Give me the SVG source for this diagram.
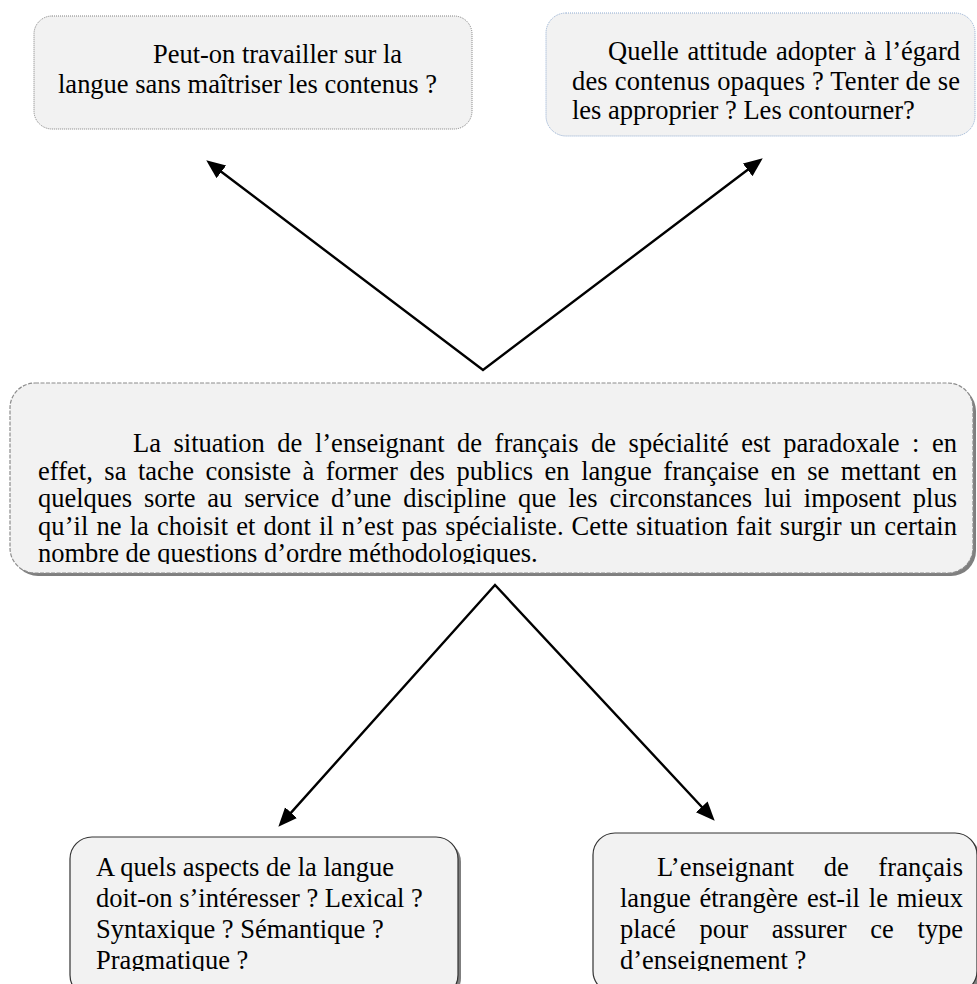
<svg xmlns="http://www.w3.org/2000/svg" width="977" height="984" viewBox="0 0 977 984">
  <style>
    .box { fill: #f2f2f2; }
    .txt { font-family: "Liberation Serif", "Times New Roman", serif; font-size: 26.5px; fill: #000; }
    .shadow { fill: #7f7f7f; }
    .conn { fill: none; stroke: #000; stroke-width: 2.4; stroke-linejoin: miter; }
  </style>
  <defs>
    <marker id="arrow" markerUnits="userSpaceOnUse" markerWidth="22" markerHeight="18" refX="8" refY="8" orient="auto-start-reverse">
      <path d="M0,0 L19,8 L0,16 z" fill="#000"/>
    </marker>
    <clipPath id="clipMain"><rect x="10" y="383" width="965" height="181"/></clipPath>
    <clipPath id="clipBL"><rect x="70" y="837" width="390" height="134"/></clipPath>
    <clipPath id="clipBR"><rect x="593" y="833" width="384" height="138"/></clipPath>
  </defs>

  <rect width="977" height="984" fill="#ffffff"/>

  <!-- Connectors -->
  <g id="connectors">
    <polyline class="conn" points="215,167 483,370 754,165" marker-start="url(#arrow)" marker-end="url(#arrow)"/>
    <polyline class="conn" points="285.7,818.6 495,585 707.2,812.7" marker-start="url(#arrow)" marker-end="url(#arrow)"/>
  </g>

  <!-- Question: working on language without mastering content -->
  <g id="node-top-left">
    <rect class="box" x="34" y="16" width="438" height="113" rx="18" ry="18" stroke="#808080" stroke-width="1" stroke-dasharray="1,1"/>
    <text class="txt" x="153" y="63" textLength="249" lengthAdjust="spacing">Peut-on travailler sur la</text>
    <text class="txt" x="58" y="93" textLength="379" lengthAdjust="spacing">langue sans maîtriser les contenus ?</text>
  </g>

  <!-- Question: attitude towards opaque content -->
  <g id="node-top-right">
    <rect class="box" x="546" y="13" width="429" height="123" rx="20" ry="20" stroke="#8eaad0" stroke-width="1" stroke-dasharray="1,1"/>
    <text class="txt" x="608" y="60" textLength="352" lengthAdjust="spacing" word-spacing="2">Quelle attitude adopter à l’égard</text>
    <text class="txt" x="572" y="89.5" textLength="388" lengthAdjust="spacing">des contenus opaques ? Tenter de se</text>
    <text class="txt" x="572" y="119">les approprier ? Les contourner?</text>
  </g>

  <!-- Central statement -->
  <g id="node-center">
    <rect class="shadow" x="13" y="386" width="963" height="190" rx="25" ry="25"/>
    <rect class="box" x="10" y="383" width="963" height="190" rx="25" ry="25" stroke="#8c8c8c" stroke-width="1.2" stroke-dasharray="4,1.5"/>
    <g clip-path="url(#clipMain)">
      <text class="txt" x="133" y="452" textLength="824" lengthAdjust="spacing" word-spacing="5.9">La situation de l’enseignant de français de spécialité est paradoxale : en</text>
      <text class="txt" x="38" y="479.5" textLength="919" lengthAdjust="spacing" word-spacing="4.9">effet, sa tache consiste à former des publics en langue française en se mettant en</text>
      <text class="txt" x="38" y="507" textLength="919" lengthAdjust="spacing" word-spacing="5.2">quelques sorte au service d’une discipline que les circonstances lui imposent plus</text>
      <text class="txt" x="38" y="534.5" textLength="919" lengthAdjust="spacing" word-spacing="1.2">qu’il ne la choisit et dont il n’est pas spécialiste. Cette situation fait surgir un certain</text>
      <text class="txt" x="38" y="562">nombre de questions d’ordre méthodologiques.</text>
    </g>
  </g>

  <!-- Question: which aspects of language -->
  <g id="node-bottom-left">
    <rect class="shadow" x="73" y="840" width="388" height="160" rx="22" ry="22"/>
    <rect class="box" x="70" y="837" width="388" height="160" rx="22" ry="22" stroke="#333333" stroke-width="1.2"/>
    <g clip-path="url(#clipBL)">
      <text class="txt" x="96" y="876">A quels aspects de la langue</text>
      <text class="txt" x="96" y="907">doit-on s’intéresser ? Lexical ?</text>
      <text class="txt" x="96" y="938">Syntaxique ? Sémantique ?</text>
      <text class="txt" x="96" y="969">Pragmatique ?</text>
    </g>
  </g>

  <!-- Question: is the FLE teacher best placed -->
  <g id="node-bottom-right">
    <rect class="shadow" x="596" y="836" width="384" height="160" rx="22" ry="22"/>
    <rect class="box" x="593" y="833" width="384" height="160" rx="22" ry="22" stroke="#333333" stroke-width="1.2"/>
    <g clip-path="url(#clipBR)">
      <text class="txt" x="657" y="876" textLength="306" lengthAdjust="spacing" word-spacing="22.7">L’enseignant de français</text>
      <text class="txt" x="620" y="907" textLength="343" lengthAdjust="spacing" word-spacing="2.2">langue étrangère est-il le mieux</text>
      <text class="txt" x="620" y="938" textLength="343" lengthAdjust="spacing" word-spacing="17">placé pour assurer ce type</text>
      <text class="txt" x="620" y="969">d’enseignement ?</text>
    </g>
  </g>
</svg>
